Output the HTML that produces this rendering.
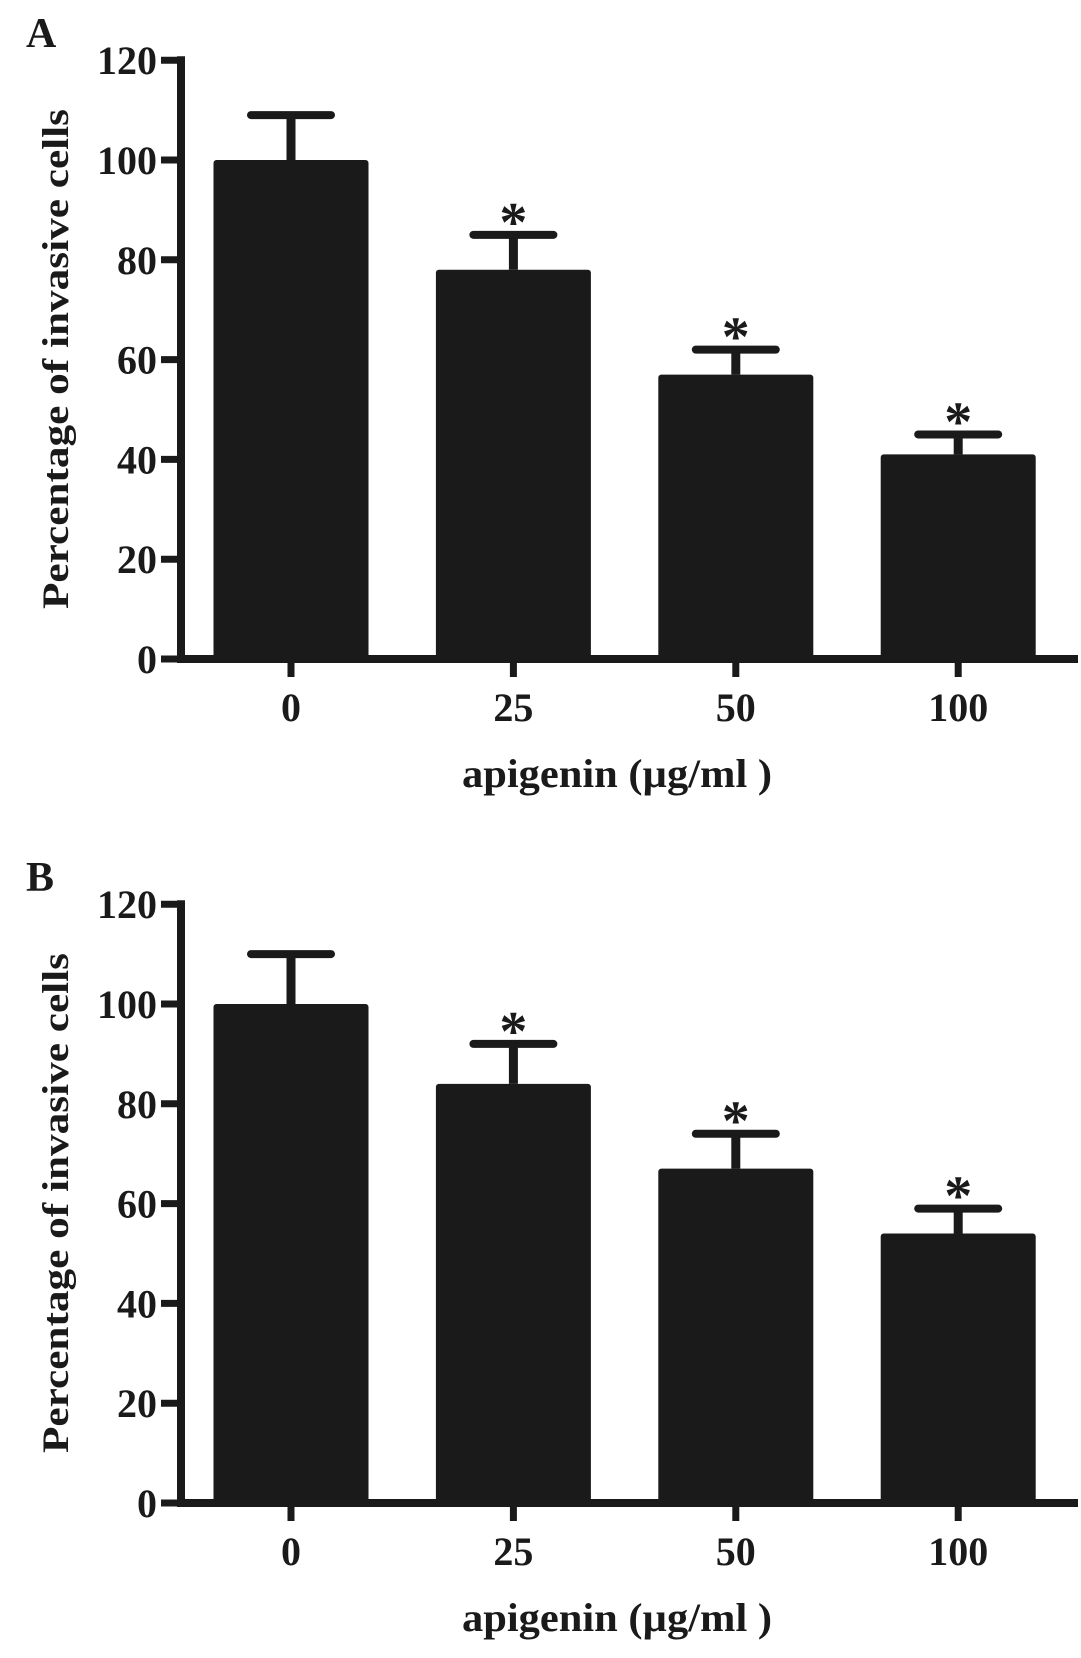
<!DOCTYPE html>
<html><head><meta charset="utf-8"><style>
html,body{margin:0;padding:0;background:#fff;}
svg{display:block;}
text{font-family:"Liberation Serif",serif;font-weight:bold;fill:#1a1a1a;}
</style></head><body>
<svg id="chart" width="1081" height="1658" viewBox="0 0 1081 1658" xmlns="http://www.w3.org/2000/svg"></svg>
<script>
const categories = ["0","25","50","100"];
const valuesA = [100, 78, 57, 41];
const errorsA = [109, 85, 62, 45];
const sigA = [false, true, true, true];
const valuesB = [100, 84, 67, 54];
const errorsB = [110, 92, 74, 59];
const sigB = [false, true, true, true];
const yTicks = [0, 20, 40, 60, 80, 100, 120];

const NS = "http://www.w3.org/2000/svg";
const svg = document.getElementById("chart");
function mk(tag, attrs, parent){
  const e = document.createElementNS(NS, tag);
  for (const k in attrs) e.setAttribute(k, attrs[k]);
  (parent||svg).appendChild(e);
  return e;
}
function panel(letter, vals, errs, sig, zeroY, prefix){
  const g = mk("g", {});
  
  
  const axisX = 181, pxPerUnit = 4.99;
  const y = v => zeroY - v * pxPerUnit;
  const xCenter = i => 291 + i * 222.4;
  const barW = 155;
  const lt = mk("text", {x: 26, y: zeroY - 612, "font-size": 42});
  lt.textContent = letter;
  
  
  vals.forEach((v, i) => {
    const b = mk("rect", {x: xCenter(i) - barW/2, y: y(v), width: barW, height: zeroY - y(v), fill: "#1a1a1a", rx: 3}, g);
    
    
    const st = mk("line", {x1: xCenter(i), x2: xCenter(i), y1: y(v), y2: y(errs[i]), stroke: "#1a1a1a", "stroke-width": 9}, g);
    
    
    const cap = mk("line", {x1: xCenter(i) - 40, x2: xCenter(i) + 40, y1: y(errs[i]), y2: y(errs[i]), stroke: "#1a1a1a", "stroke-width": 8, "stroke-linecap": "round"}, g);
    
    
    if (sig[i]) {
      const a = mk("text", {x: xCenter(i), y: y(errs[i]) + 6, "font-size": 56, "text-anchor": "middle"}, g);
      a.textContent = "*";
      
      
    }
    const tk = mk("line", {x1: xCenter(i), x2: xCenter(i), y1: zeroY, y2: zeroY + 18, stroke: "#1a1a1a", "stroke-width": 7}, g);
    
    
    const tl = mk("text", {x: xCenter(i), y: zeroY + 62, "font-size": 40, "text-anchor": "middle"}, g);
    tl.textContent = categories[i];
    
    
  });
  const ya = mk("line", {x1: axisX, x2: axisX, y1: y(120) - 4, y2: zeroY + 4, stroke: "#1a1a1a", "stroke-width": 8}, g);
  
  
  const xa = mk("line", {x1: axisX - 4, x2: 1078, y1: zeroY, y2: zeroY, stroke: "#1a1a1a", "stroke-width": 8}, g);
  
  
  yTicks.forEach(t => {
    const tk = mk("line", {x1: axisX - 20, x2: axisX, y1: y(t), y2: y(t), stroke: "#1a1a1a", "stroke-width": 7}, g);
    
    
    const tl = mk("text", {x: axisX - 24, y: y(t) + 14, "font-size": 40, "text-anchor": "end"}, g);
    tl.textContent = String(t);
    
    
  });
  const yt = mk("text", {x: 0, y: 0, "font-size": 37, "text-anchor": "middle", transform: `translate(68 ${zeroY - 300}) rotate(-90)`, textLength: 500, lengthAdjust: "spacingAndGlyphs"}, g);
  yt.textContent = "Percentage of invasive cells";
  
  
  const xt = mk("text", {x: 617, y: zeroY + 128, "font-size": 40, "text-anchor": "middle", textLength: 310, lengthAdjust: "spacingAndGlyphs"}, g);
  xt.textContent = "apigenin (\u00b5g/ml )";
  
  
}
panel("A", valuesA, errorsA, sigA, 659, "a");
panel("B", valuesB, errorsB, sigB, 1503, "b");
</script>
</body></html>
